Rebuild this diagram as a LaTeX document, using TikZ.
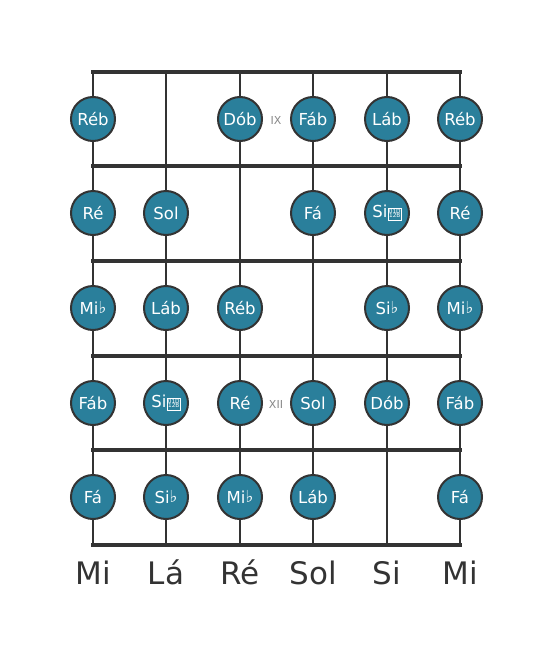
\documentclass[tikz,border=0pt]{standalone}
\usepackage{fontspec}
\setmainfont{DejaVu Sans}
\definecolor{notefill}{HTML}{2A7F9B}
\definecolor{linec}{HTML}{333333}
\definecolor{posc}{HTML}{888888}
\newcommand{\dflat}{\hspace{0.5pt}{\fontsize{5.8}{5.8}\selectfont\setlength{\fboxsep}{0.6pt}\setlength{\fboxrule}{0.35pt}\fbox{\begin{tabular}[b]{@{}c@{}}01D\\[-1.2pt]12B\end{tabular}}}}
\newcommand{\fl}{\raisebox{0.1ex}{♭}}
\begin{document}
\begin{tikzpicture}[x=1pt,y=-1pt,
  stringline/.style={draw=linec,line width=2.6pt},
  fretline/.style={draw=linec,line width=4.4pt},
  note/.style={circle,draw=linec,line width=2pt,fill=notefill,minimum size=44pt,inner sep=0pt,text=white,font=\fontsize{16.5}{16.5}\selectfont},
  fretpos/.style={text=posc,font=\fontsize{11}{11}\selectfont},
  strlabel/.style={text=linec,font=\fontsize{31}{31}\selectfont}]
\useasboundingbox (0,0) rectangle (553,656);
% string coordinates
\foreach \n/\x in {1/93,2/166,3/240,4/313,5/387,6/460}{
  \coordinate (t\n) at (\x,72);
  \coordinate (b\n) at (\x,545);
}
\foreach \n in {1,...,6}{ \draw[stringline] (t\n) -- (b\n); }
\foreach \f/\y in {0/72,1/166,2/261,3/356,4/450,5/545}{
  \coordinate (fl\f) at (93,\y);
  \coordinate (fr\f) at (460,\y);
  \draw[fretline,line cap=rect] (fl\f) -- (fr\f);
}
% notes
\node[note] (n11) at (93,119) {Réb};
\node[note] (n13) at (240,119) {Dób};
\node[note] (n14) at (313,119) {Fáb};
\node[note] (n15) at (387,119) {Láb};
\node[note] (n16) at (460,119) {Réb};
\node[fretpos] (p9) at (276,120) {IX};
\node[note] (n21) at (93,213) {Ré};
\node[note] (n22) at (166,213) {Sol};
\node[note] (n24) at (313,213) {Fá};
\node[note] (n25) at (387,213) {Si\dflat};
\node[note] (n26) at (460,213) {Ré};
\node[note] (n31) at (93,308) {Mi\fl};
\node[note] (n32) at (166,308) {Láb};
\node[note] (n33) at (240,308) {Réb};
\node[note] (n35) at (387,308) {Si\fl};
\node[note] (n36) at (460,308) {Mi\fl};
\node[note] (n41) at (93,403) {Fáb};
\node[note] (n42) at (166,403) {Si\dflat};
\node[note] (n43) at (240,403) {Ré};
\node[fretpos] (p12) at (276,404) {XII};
\node[note] (n44) at (313,403) {Sol};
\node[note] (n45) at (387,403) {Dób};
\node[note] (n46) at (460,403) {Fáb};
\node[note] (n51) at (93,497) {Fá};
\node[note] (n52) at (166,497) {Si\fl};
\node[note] (n53) at (240,497) {Mi\fl};
\node[note] (n54) at (313,497) {Láb};
\node[note] (n56) at (460,497) {Fá};
% string names
\foreach \n/\x/\t in {1/93/Mi,2/166/Lá,3/240/Ré,4/313/Sol,5/387/Si,6/460/Mi}{
  \node[strlabel,anchor=base] (s\n) at (\x,584) {\t};
}
\end{tikzpicture}
\end{document}
